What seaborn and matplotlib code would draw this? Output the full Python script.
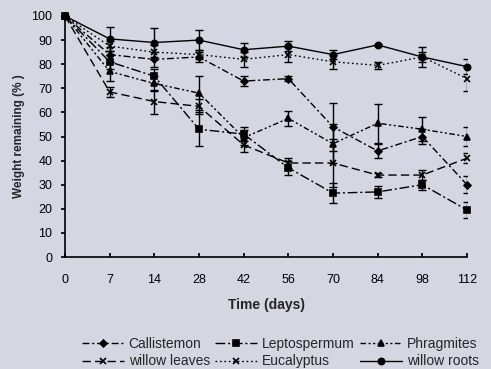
import matplotlib
matplotlib.use("Agg")
import matplotlib.pyplot as plt
import seaborn as sns
import pandas as pd
import numpy as np

days = ["0", "7", "14", "28", "42", "56", "70", "84", "98", "112"]
series_names = ["Callistemon", "Leptospermum", "Phragmites", "willow leaves", "Eucalyptus", "willow roots"]

callistemon = [100, 84, 82, 83, 73, 74, 54, 44, 50, 30]
leptospermum = [100, 81, 75, 53, 51, 37, 26.5, 27, 30, 19.5]
phragmites = [100, 77, 72, 68, 49.5, 57.5, 47, 55.5, 53, 50]
willow_leaves = [100, 68.5, 64.5, 62.5, 46.5, 39, 39, 34, 34, 41]
eucalyptus = [100, 87.5, 85, 84, 82, 84, 81, 79.5, 83, 74]
willow_roots = [100, 90.5, 89, 90, 86, 87.5, 84, 88, 83, 79]

err_callistemon = [0, 3, 3, 2, 2, 1, 10, 3, 3, 3.5]
err_leptospermum = [0, 3, 3, 7, 3, 3, 4, 2.5, 2, 3.5]
err_phragmites = [0, 4, 3, 7, 3, 3, 8, 8, 5, 4]
err_willow_leaves = [0, 2, 5, 3, 3, 2, 10, 1, 2, 2]
err_eucalyptus = [0, 2, 3, 2, 3, 3, 3, 1.5, 2, 5]
err_willow_roots = [0, 5, 6, 4, 3, 2, 2, 0.5, 4, 3]

values = [callistemon, leptospermum, phragmites, willow_leaves, eucalyptus, willow_roots]
errors = [err_callistemon, err_leptospermum, err_phragmites, err_willow_leaves, err_eucalyptus, err_willow_roots]

rows = []
for name, vals, errs in zip(series_names, values, errors):
    for i, (d, v, e) in enumerate(zip(days, vals, errs)):
        rows.append({"series": name, "pos": i, "day": d, "value": v, "err": e})
df = pd.DataFrame(rows)

bg = "#d4d6e2"
sns.set_theme(style="ticks")
plt.rcParams["font.family"] = ["Liberation Sans", "DejaVu Sans"]

fig = plt.figure(figsize=(4.91, 3.69), dpi=100, facecolor=bg)
ax = fig.add_axes([65 / 491, 1 - 257 / 369, (467 - 65) / 491, (257 - 16) / 369])
ax.set_facecolor(bg)

styles = {
    "Callistemon": (0, (5, 2, 1.5, 2)),
    "Leptospermum": (0, (7, 2, 1.5, 2)),
    "Phragmites": (0, (4, 1.8, 1.5, 1.8, 1.5, 1.8)),
    "willow leaves": (0, (6, 3)),
    "Eucalyptus": (0, (1.2, 2)),
    "willow roots": "-",
}
markers = {
    "Callistemon": "D",
    "Leptospermum": "s",
    "Phragmites": "^",
    "willow leaves": "x",
    "Eucalyptus": "x",
    "willow roots": "o",
}
msizes = {
    "Callistemon": 3.5,
    "Leptospermum": 4.5,
    "Phragmites": 4.5,
    "willow leaves": 4.5,
    "Eucalyptus": 4.5,
    "willow roots": 4.5,
}

for name in series_names:
    sub = df[df["series"] == name]
    sns.lineplot(data=sub, x="pos", y="value", ax=ax, color="black",
                 linestyle=styles[name], marker=markers[name],
                 markersize=msizes[name], markeredgewidth=1.2,
                 markeredgecolor="black", linewidth=1.0,
                 label=name, clip_on=False, zorder=3)
    ax.errorbar(sub["pos"], sub["value"], yerr=sub["err"], fmt="none",
                ecolor="black", elinewidth=1.0, capsize=3, capthick=1.0, zorder=2)

ax.set_xlim(0, 9)
ax.set_ylim(0, 100)
ax.set_xticks(range(len(days)))
ax.set_xticklabels(days)
ax.set_yticks(np.arange(0, 101, 10))
ax.tick_params(axis="x", direction="in", length=3, labelsize=9, pad=12, colors="black")
ax.tick_params(axis="y", direction="out", length=3, labelsize=9, pad=6, colors="black")
for s in ["top", "right"]:
    ax.spines[s].set_visible(False)
for s in ["left", "bottom"]:
    ax.spines[s].set_color("black")
    ax.spines[s].set_linewidth(1.2)

ax.set_xlabel("Time (days)", fontsize=10, fontweight="bold", labelpad=9)
ax.set_ylabel("Weight remaining (% )", fontsize=8.5, fontweight="bold", labelpad=5)

handles, labels = ax.get_legend_handles_labels()
hmap = dict(zip(labels, handles))
order = ["Callistemon", "willow leaves", "Leptospermum", "Eucalyptus", "Phragmites", "willow roots"]
ax.legend([hmap[o] for o in order], order, ncol=3, loc="upper left",
          bbox_to_anchor=(82 / 491, 1 - 337 / 369), bbox_transform=fig.transFigure,
          frameon=False, fontsize=10, borderpad=0, borderaxespad=0,
          handlelength=3.0, columnspacing=0.4, handletextpad=0.35,
          labelspacing=0.25)

fig.savefig("out.png", dpi=100, facecolor=bg)
